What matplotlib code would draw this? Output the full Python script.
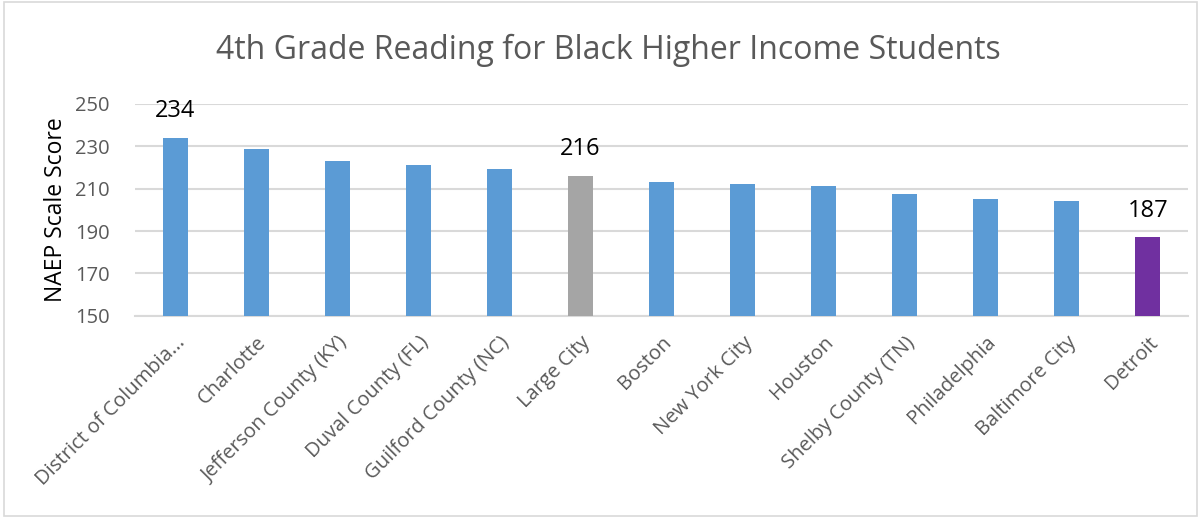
import numpy as np
import matplotlib.pyplot as plt
from matplotlib.patches import Rectangle

plt.rcParams['font.family'] = ['Open Sans', 'DejaVu Sans']

districts = ['District of Columbia...', 'Charlotte', 'Jefferson County (KY)', 'Duval County (FL)',
             'Guilford County (NC)', 'Large City', 'Boston', 'New York City', 'Houston',
             'Shelby County (TN)', 'Philadelphia', 'Baltimore City', 'Detroit']
scores = [234, 228.5, 223, 221, 219.5, 216, 213, 212, 211.5, 207.5, 205, 204, 187]
labelled = {0: '234', 5: '216', 12: '187'}
yticks = [150, 170, 190, 210, 230, 250]

colors = ['#5B9BD5'] * len(districts)
colors[5] = '#A5A5A5'
colors[12] = '#7030A0'

fig = plt.figure(figsize=(12.04, 5.17), dpi=100)
ax = fig.add_axes([0.112, 0.389, 0.875, 0.41])

x = np.arange(len(districts))
ax.bar(x, scores, width=0.31, color=colors, zorder=3)

# only a few bars carry a value label
for i, txt in labelled.items():
    ax.text(x[i], scores[i] + 7, txt, ha='center', va='bottom', fontsize=17, color='black')

ax.set_ylim(150, 250)
ax.set_xlim(-0.5, len(districts) - 0.5)
ax.set_yticks(yticks)
ax.yaxis.grid(True, color='#d9d9d9', linewidth=1.5, zorder=0)
ax.tick_params(axis='y', length=0, labelsize=14.5, labelcolor='#595959', pad=18)
ax.tick_params(axis='x', length=0, labelsize=14.5, labelcolor='#595959', pad=12)
ax.set_xticks(x)
ax.set_xticklabels(districts, rotation=45, ha='right', rotation_mode='anchor')
for s in ['top', 'right', 'left']:
    ax.spines[s].set_visible(False)
ax.spines['bottom'].set_color('#d9d9d9')
ax.spines['bottom'].set_linewidth(1.5)
ax.set_ylabel('NAEP Scale Score', fontsize=16.5, color='black', labelpad=5)

fig.text(0.505, 0.903, '4th Grade Reading for Black Higher Income Students',
         ha='center', va='center', fontsize=23, color='#595959')

fig.patches.append(Rectangle((0.003, 0.002), 0.991, 0.995, transform=fig.transFigure,
                             fill=False, edgecolor='#d9d9d9', linewidth=1.2))

fig.savefig('out.png', dpi=100)
